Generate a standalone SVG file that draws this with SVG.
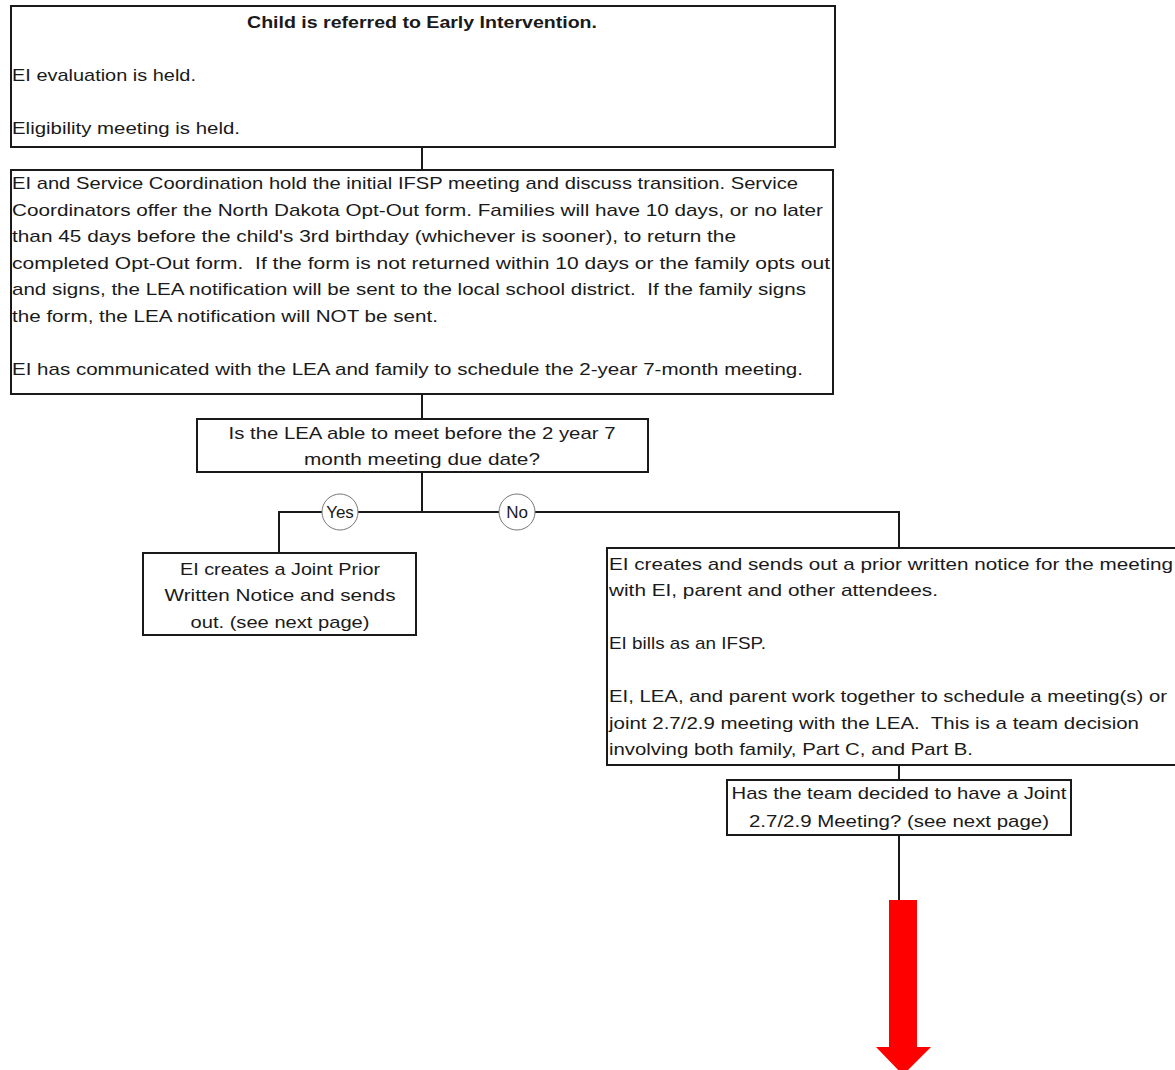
<svg xmlns="http://www.w3.org/2000/svg" width="1175" height="1070" viewBox="0 0 1175 1070">
<style>
.box{fill:#fff;stroke:#1a1a1a;stroke-width:2}
.t{font-family:"Liberation Sans",Arial,sans-serif;font-size:17px;fill:#1a1a1a;white-space:pre}
.b{font-weight:bold}
.c{text-anchor:middle}
.ln{stroke:#1a1a1a;stroke-width:2;fill:none}
.lbl{fill:#fff;stroke:#777;stroke-width:1}
</style>
<rect width="1175" height="1070" fill="#fff"/>
<g id="connectors">
<line class="ln" x1="422" y1="147" x2="422" y2="170"/>
<line class="ln" x1="422" y1="394" x2="422" y2="419"/>
<line class="ln" x1="422" y1="472" x2="422" y2="512"/>
<polyline class="ln" points="279,553 279,512 899,512 899,548"/>
<line class="ln" x1="899" y1="765" x2="899" y2="780"/>
<line class="ln" x1="899" y1="835" x2="899" y2="900"/>
<g id="label-yes"><circle class="lbl" cx="340" cy="512" r="18"/><text class="t c" x="340" y="518">Yes</text></g>
<g id="label-no"><circle class="lbl" cx="517" cy="512" r="18"/><text class="t c" x="517" y="518">No</text></g>
<polygon id="red-arrow" points="889,900 917,900 917,1047 931,1047 903,1075 876,1047 889,1047" fill="#ff0000"/>
</g>
<g id="n1">
<rect class="box" x="11" y="6" width="824" height="141"/>
<text class="t b c" x="422" y="28" textLength="350" lengthAdjust="spacingAndGlyphs">Child is referred to Early Intervention.</text>
<text class="t" x="12" y="81" textLength="184" lengthAdjust="spacingAndGlyphs">EI evaluation is held.</text>
<text class="t" x="12" y="134" textLength="228" lengthAdjust="spacingAndGlyphs">Eligibility meeting is held.</text>
</g>
<g id="n2">
<rect class="box" x="11" y="170" width="822" height="224"/>
<text class="t" x="12" y="189" textLength="786" lengthAdjust="spacingAndGlyphs">EI and Service Coordination hold the initial IFSP meeting and discuss transition. Service</text>
<text class="t" x="12" y="216" textLength="811" lengthAdjust="spacingAndGlyphs">Coordinators offer the North Dakota Opt-Out form. Families will have 10 days, or no later</text>
<text class="t" x="12" y="242" textLength="724" lengthAdjust="spacingAndGlyphs">than 45 days before the child's 3rd birthday (whichever is sooner), to return the</text>
<text class="t" x="12" y="269" textLength="818" lengthAdjust="spacingAndGlyphs">completed Opt-Out form.  If the form is not returned within 10 days or the family opts out</text>
<text class="t" x="12" y="295" textLength="794" lengthAdjust="spacingAndGlyphs">and signs, the LEA notification will be sent to the local school district.  If the family signs</text>
<text class="t" x="12" y="322" textLength="426" lengthAdjust="spacingAndGlyphs">the form, the LEA notification will NOT be sent.</text>
<text class="t" x="12" y="375" textLength="791" lengthAdjust="spacingAndGlyphs">EI has communicated with the LEA and family to schedule the 2-year 7-month meeting.</text>
</g>
<g id="n3">
<rect class="box" x="197" y="419" width="451" height="53"/>
<text class="t c" x="422" y="439" textLength="387" lengthAdjust="spacingAndGlyphs">Is the LEA able to meet before the 2 year 7</text>
<text class="t c" x="422" y="465" textLength="236" lengthAdjust="spacingAndGlyphs">month meeting due date?</text>
</g>
<g id="n4">
<rect class="box" x="143" y="553" width="273" height="82"/>
<text class="t c" x="280" y="575" textLength="200" lengthAdjust="spacingAndGlyphs">EI creates a Joint Prior</text>
<text class="t c" x="280" y="601" textLength="231" lengthAdjust="spacingAndGlyphs">Written Notice and sends</text>
<text class="t c" x="280" y="628" textLength="179" lengthAdjust="spacingAndGlyphs">out. (see next page)</text>
</g>
<g id="n5">
<rect class="box" x="607" y="548" width="580" height="217"/>
<text class="t" x="609" y="570" textLength="564" lengthAdjust="spacingAndGlyphs">EI creates and sends out a prior written notice for the meeting</text>
<text class="t" x="609" y="596" textLength="329" lengthAdjust="spacingAndGlyphs">with EI, parent and other attendees.</text>
<text class="t" x="609" y="649" textLength="157" lengthAdjust="spacingAndGlyphs">EI bills as an IFSP.</text>
<text class="t" x="609" y="702" textLength="558" lengthAdjust="spacingAndGlyphs">EI, LEA, and parent work together to schedule a meeting(s) or</text>
<text class="t" x="609" y="729" textLength="530" lengthAdjust="spacingAndGlyphs">joint 2.7/2.9 meeting with the LEA.  This is a team decision</text>
<text class="t" x="609" y="755" textLength="364" lengthAdjust="spacingAndGlyphs">involving both family, Part C, and Part B.</text>
</g>
<g id="n6">
<rect class="box" x="727" y="780" width="344" height="55"/>
<text class="t c" x="899" y="799" textLength="335" lengthAdjust="spacingAndGlyphs">Has the team decided to have a Joint</text>
<text class="t c" x="899" y="827" textLength="300" lengthAdjust="spacingAndGlyphs">2.7/2.9 Meeting? (see next page)</text>
</g>
</svg>
